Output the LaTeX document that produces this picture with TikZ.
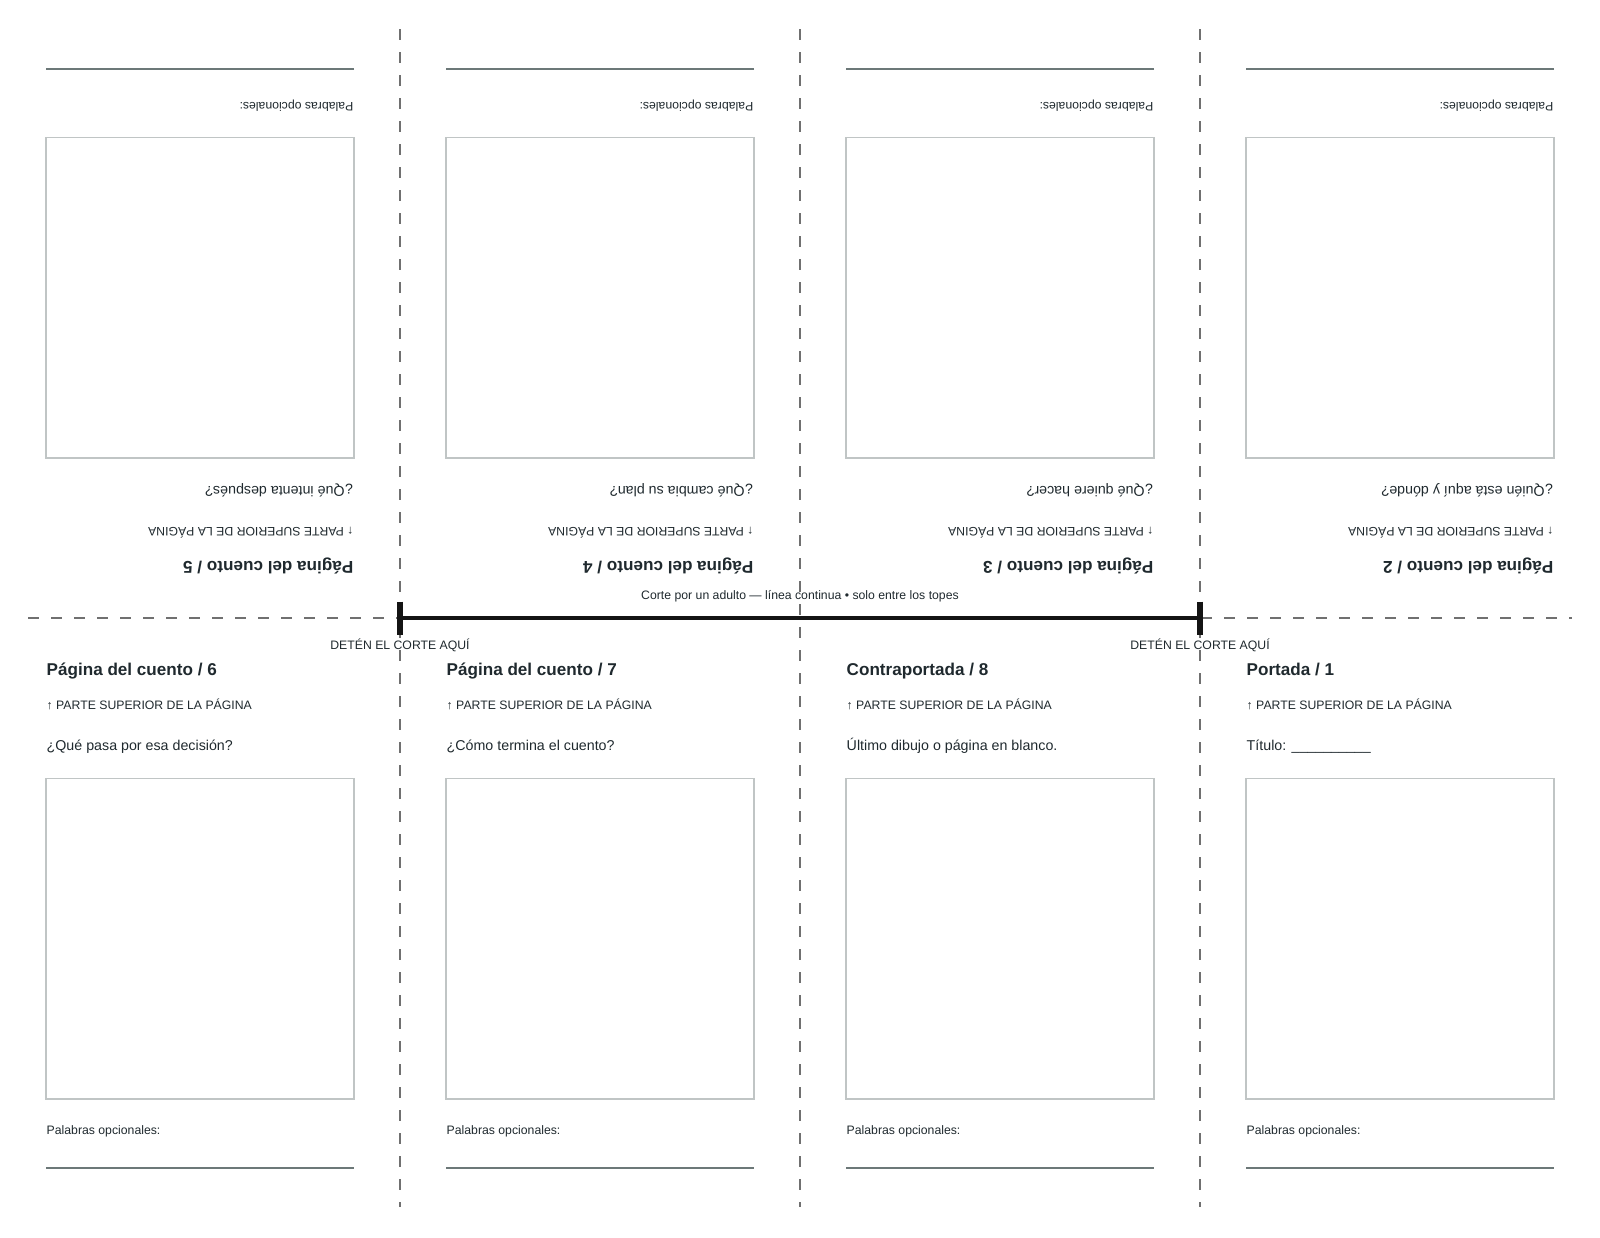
\documentclass[tikz,border=0pt]{standalone}
\usepackage{fontspec}
\setmainfont{Liberation Sans}
\definecolor{ink}{RGB}{31,41,46}
\definecolor{boxgray}{RGB}{192,197,197}
\definecolor{rulegray}{RGB}{108,120,120}
\definecolor{dashgray}{RGB}{112,112,112}
\definecolor{cutblack}{RGB}{20,20,20}
\tikzset{
  pagetitle/.style={anchor=base west, inner sep=0pt, font=\fontsize{17.1}{20}\selectfont\bfseries, text=ink},
  hint/.style={anchor=base west, inner sep=0pt, font=\fontsize{12.25}{14}\selectfont, text=ink},
  question/.style={anchor=base west, inner sep=0pt, font=\fontsize{14.25}{17}\selectfont, text=ink},
  drawbox/.style={draw=boxgray, line width=1.5pt},
  writeline/.style={draw=rulegray, line width=2pt},
  foldline/.style={draw=dashgray, line width=2pt, dash pattern=on 11pt off 12pt},
  cutline/.style={draw=cutblack, line width=4pt},
  stopbar/.style={draw=cutblack, line width=6.5pt},
}
\newcommand\storypanel[4]{%
  \node[pagetitle] (#1-t) at (#2+46.5,675.3) {#3};
  \node[hint] (#1-h) at (#2+46.5,709) {↑ PARTE SUPERIOR DE LA PÁGINA};
  \node[question] (#1-q) at (#2+46.5,750.2) {#4};
  \draw[drawbox] (#2+46,778.5) rectangle (#2+354,1099);
  \node[hint] (#1-p) at (#2+46.5,1134) {Palabras opcionales:};
  \draw[writeline] (#2+46,1167.7) -- (#2+354,1167.7);
}
\newcommand\flippedpanel[4]{%
  \begin{scope}[rotate around={180:(#2+200,618.3)}, transform shape]
    \storypanel{#1}{#2}{#3}{#4}
  \end{scope}
}
\begin{document}
\begin{tikzpicture}[x=1pt, y=-1pt]
  \useasboundingbox (0,0) rectangle (1600,1237);
  % bottom row
  \storypanel{p6}{0}{Página del cuento / 6}{¿Qué pasa por esa decisión?}
  \storypanel{p7}{400}{Página del cuento / 7}{¿Cómo termina el cuento?}
  \storypanel{p8}{800}{Contraportada / 8}{Último dibujo o página en blanco.}
  \storypanel{p1}{1200}{Portada / 1}{Título: \_\_\_\_\_\_\_\_\_\_}
  % top row (upside down)
  \flippedpanel{p5}{0}{Página del cuento / 5}{¿Qué intenta después?}
  \flippedpanel{p4}{400}{Página del cuento / 4}{¿Qué cambia su plan?}
  \flippedpanel{p3}{800}{Página del cuento / 3}{¿Qué quiere hacer?}
  \flippedpanel{p2}{1200}{Página del cuento / 2}{¿Quién está aquí y dónde?}
  % cut labels
  \node[hint, anchor=base] (stopL-label) at (400,649) {DETÉN EL CORTE AQUÍ};
  \node[hint, anchor=base] (stopR-label) at (1200,649) {DETÉN EL CORTE AQUÍ};
  \node[hint, anchor=base] (cut-label) at (800,599.3) {Corte por un adulto — línea continua • solo entre los topes};
  % fold lines
  \draw[foldline] (28,618.3) -- (1572,618.3);
  \foreach \vx in {400,800,1200} {
    \draw[foldline] (\vx,29) -- (\vx,1207);
  }
  % cut line with stops
  \coordinate (stopL) at (400,618.3);
  \coordinate (stopR) at (1200,618.3);
  \draw[cutline] (stopL) -- (stopR);
  \draw[stopbar] ([yshift=16.8pt]stopL) -- ([yshift=-16.8pt]stopL);
  \draw[stopbar] ([yshift=16.8pt]stopR) -- ([yshift=-16.8pt]stopR);
\end{tikzpicture}
\end{document}
